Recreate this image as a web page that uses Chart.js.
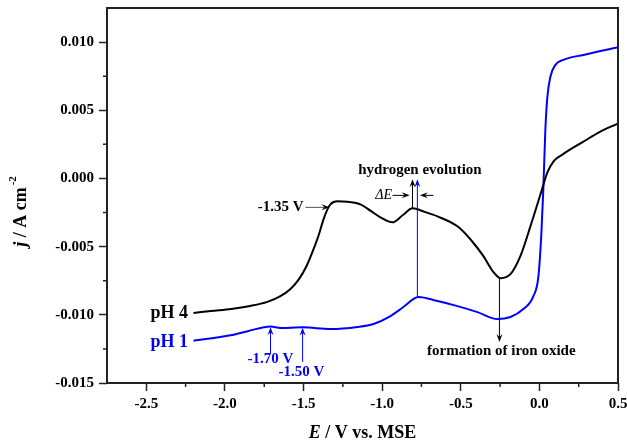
<!DOCTYPE html>
<html>
<head>
<meta charset="utf-8">
<script src="https://cdn.jsdelivr.net/npm/chart.js@4.4.0/dist/chart.umd.min.js"></script>
<style>
  html, body { margin: 0; padding: 0; background: #fff; }
  #wrap { width: 627px; height: 442px; }
</style>
</head>
<body>
<div id="wrap"><canvas id="charts" width="627" height="442"></canvas></div>
<script>
// polarisation curves, potential in V vs. MSE and current density in A cm-2
const ph4Potential = [-2.2, -2.09, -1.96, -1.84, -1.73, -1.65, -1.583, -1.53, -1.48, -1.44, -1.405, -1.373,
  -1.348, -1.329, -1.284, -1.221, -1.138, -1.07, -1.011, -0.935, -0.87, -0.807, -0.73, -0.648, -0.521, -0.439,
  -0.356, -0.292, -0.248, -0.184, -0.121, -0.057, 0.006, 0.051, 0.089, 0.146, 0.28, 0.388, 0.5];
const ph4Current = [-0.00987, -0.00972, -0.00957, -0.00935, -0.00905, -0.00865, -0.0081, -0.0074, -0.0064,
  -0.0053, -0.0042, -0.003, -0.00227, -0.0019, -0.00168, -0.0017, -0.0019, -0.0024, -0.00285, -0.00322,
  -0.0027, -0.00219, -0.00245, -0.00278, -0.00351, -0.00446, -0.0057, -0.00687, -0.00731, -0.00702, -0.0057,
  -0.00351, -0.0012, 0.00044, 0.00124, 0.00175, 0.0027, 0.00344, 0.00402];

const ph1Potential = [-2.2, -1.964, -1.856, -1.71, -1.647, -1.506, -1.329, -1.157, -1.055, -0.947, -0.865, -0.769,
  -0.648, -0.521, -0.394, -0.267, -0.184, -0.102, -0.038, -0.006, 0.013, 0.025, 0.038, 0.051, 0.07, 0.102,
  0.153, 0.28, 0.5];
const ph1Current = [-0.0119, -0.0115, -0.0112, -0.01085, -0.01096, -0.01092, -0.01104, -0.01089, -0.01067, -0.01009,
  -0.00943, -0.0087, -0.00899, -0.00936, -0.0098, -0.01031, -0.01016, -0.00958, -0.00863, -0.00716, -0.00395,
  -0.0008, 0.00358, 0.006, 0.00746, 0.00833, 0.0087, 0.00906, 0.00962];

const xTicks = [-2.5, -2.0, -1.5, -1.0, -0.5, 0.0, 0.5];
const yTicks = [-0.015, -0.010, -0.005, 0.000, 0.005, 0.010];
const xMinorTicks = [-2.25, -1.75, -1.25, -0.75, -0.25, 0.25];
const yMinorTicks = [-0.0125, -0.0075, -0.0025, 0.0025, 0.0075];

const black = '#000000';
const blue = '#0000ff';

// text notes, placed in data units
const notes = [
  { text: 'pH 4', x: -2.235, y: -0.00987, color: black, align: 'right', font: 'bold 18px "Liberation Serif"' },
  { text: 'pH 1', x: -2.235, y: -0.0120, color: blue, align: 'right', font: 'bold 18px "Liberation Serif"' },
  { text: '-1.35 V', x: -1.50, y: -0.00212, color: black, align: 'right', font: 'bold 15px "Liberation Serif"' },
  { text: 'hydrogen evolution', x: -0.76, y: 0.00058, color: black, align: 'center', font: 'bold 15px "Liberation Serif"' },
  { text: 'ΔE', x: -0.99, y: -0.00124, color: black, align: 'center', font: 'italic 14px "Liberation Serif"' },
  { text: 'formation of iron oxide', x: -0.242, y: -0.01265, color: black, align: 'center', font: 'bold 15px "Liberation Serif"' },
  { text: '-1.70 V', x: -1.71, y: -0.01323, color: blue, align: 'center', font: 'bold 15px "Liberation Serif"' },
  { text: '-1.50 V', x: -1.513, y: -0.01418, color: blue, align: 'center', font: 'bold 15px "Liberation Serif"' }
];

// arrows from (x1,y1) to head at (x2,y2)
const arrows = [
  { x1: -1.488, y1: -0.00212, x2: -1.335, y2: -0.00212, color: '#555' },
  { x1: -0.807, y1: -0.00219, x2: -0.807, y2: -0.00005, color: black },
  { x1: -0.776, y1: -0.0087, x2: -0.776, y2: -0.00005, color: blue },
  { x1: -0.934, y1: -0.00124, x2: -0.825, y2: -0.00124, color: black },
  { x1: -0.674, y1: -0.00124, x2: -0.76, y2: -0.00124, color: black },
  { x1: -0.254, y1: -0.00731, x2: -0.254, y2: -0.0120, color: black },
  { x1: -1.71, y1: -0.01287, x2: -1.71, y2: -0.01092, color: blue },
  { x1: -1.506, y1: -0.01345, x2: -1.506, y2: -0.01095, color: blue }
];

function toPoints(xs, ys) {
  return xs.map((x, i) => ({ x: x, y: ys[i] }));
}

const extras = {
  id: 'extras',
  afterDraw(chart) {
    const ctx = chart.ctx;
    const xs = chart.scales.x;
    const ys = chart.scales.y;
    const area = chart.chartArea;
    ctx.save();

    // frame
    ctx.strokeStyle = '#222';
    ctx.lineWidth = 2;
    ctx.strokeRect(area.left, area.top, area.right - area.left, area.bottom - area.top);

    // minor ticks
    ctx.lineWidth = 1.5;
    ctx.strokeStyle = '#222';
    ctx.beginPath();
    xMinorTicks.forEach(v => {
      const px = xs.getPixelForValue(v);
      ctx.moveTo(px, area.bottom);
      ctx.lineTo(px, area.bottom + 4);
    });
    yMinorTicks.forEach(v => {
      const py = ys.getPixelForValue(v);
      ctx.moveTo(area.left, py);
      ctx.lineTo(area.left - 4, py);
    });
    ctx.stroke();

    // arrows
    arrows.forEach(a => {
      const x1 = xs.getPixelForValue(a.x1), y1 = ys.getPixelForValue(a.y1);
      const x2 = xs.getPixelForValue(a.x2), y2 = ys.getPixelForValue(a.y2);
      const ang = Math.atan2(y2 - y1, x2 - x1);
      ctx.strokeStyle = a.color;
      ctx.fillStyle = a.color === '#555' ? black : a.color;
      ctx.lineWidth = 1;
      ctx.beginPath();
      ctx.moveTo(x1, y1);
      ctx.lineTo(x2 - 4 * Math.cos(ang), y2 - 4 * Math.sin(ang));
      ctx.stroke();
      ctx.beginPath();
      ctx.moveTo(x2, y2);
      ctx.lineTo(x2 - 8 * Math.cos(ang) + 3 * Math.sin(ang), y2 - 8 * Math.sin(ang) - 3 * Math.cos(ang));
      ctx.lineTo(x2 - 5 * Math.cos(ang), y2 - 5 * Math.sin(ang));
      ctx.lineTo(x2 - 8 * Math.cos(ang) - 3 * Math.sin(ang), y2 - 8 * Math.sin(ang) + 3 * Math.cos(ang));
      ctx.closePath();
      ctx.fill();
    });

    // notes
    ctx.textBaseline = 'middle';
    notes.forEach(n => {
      ctx.font = n.font;
      ctx.fillStyle = n.color;
      ctx.textAlign = n.align;
      ctx.fillText(n.text, xs.getPixelForValue(n.x), ys.getPixelForValue(n.y));
    });

    // axis titles with italic symbols
    ctx.fillStyle = black;
    ctx.textAlign = 'left';
    const bi = 'bold italic 18px "Liberation Serif"';
    const b = 'bold 18px "Liberation Serif"';
    ctx.font = bi;
    const wE = ctx.measureText('E').width;
    ctx.font = b;
    const wRest = ctx.measureText(' / V vs. MSE').width;
    let sx = (area.left + area.right) / 2 - (wE + wRest) / 2;
    const ty = 433;
    ctx.font = bi;
    ctx.fillText('E', sx, ty);
    ctx.font = b;
    ctx.fillText(' / V vs. MSE', sx + wE, ty);

    ctx.translate(21, (area.top + area.bottom) / 2 + 16);
    ctx.rotate(-Math.PI / 2);
    ctx.font = bi;
    const wj = ctx.measureText('j').width;
    ctx.font = b;
    const wA = ctx.measureText(' / A cm').width;
    ctx.font = 'bold 11px "Liberation Serif"';
    const wS = ctx.measureText('-2').width;
    sx = -(wj + wA + wS + 2) / 2;
    ctx.font = bi;
    ctx.fillText('j', sx, 0);
    ctx.font = b;
    ctx.fillText(' / A cm', sx + wj, 0);
    ctx.font = 'bold 11px "Liberation Serif"';
    ctx.fillText('-2', sx + wj + wA + 2, -8);
    ctx.restore();
  }
};

const tickFont = { family: 'Liberation Serif', size: 15, weight: 'bold' };

new Chart(document.getElementById('charts'), {
  type: 'scatter',
  data: {
    datasets: [
      {
        label: 'pH 4',
        data: toPoints(ph4Potential, ph4Current),
        showLine: true,
        borderColor: black,
        borderWidth: 2,
        pointRadius: 0,
        cubicInterpolationMode: 'monotone'
      },
      {
        label: 'pH 1',
        data: toPoints(ph1Potential, ph1Current),
        showLine: true,
        borderColor: blue,
        borderWidth: 2,
        pointRadius: 0,
        cubicInterpolationMode: 'monotone'
      }
    ]
  },
  options: {
    responsive: false,
    animation: false,
    devicePixelRatio: 1,
    layout: { padding: { left: 0, right: 9, top: 8, bottom: 0 } },
    plugins: { legend: { display: false }, tooltip: { enabled: false } },
    scales: {
      x: {
        type: 'linear',
        min: -2.75,
        max: 0.5,
        afterFit: s => { s.height = 59; s.paddingLeft = 0; s.paddingRight = 0; },
        afterBuildTicks: s => { s.ticks = xTicks.map(v => ({ value: v })); },
        grid: { drawOnChartArea: false, drawTicks: true, tickLength: 8, tickWidth: 1.5, tickColor: '#222' },
        border: { display: false },
        ticks: { font: tickFont, color: black, padding: 4, maxRotation: 0, callback: v => v.toFixed(1) }
      },
      y: {
        type: 'linear',
        min: -0.015,
        max: 0.0125,
        afterFit: s => { s.width = 107; s.paddingTop = 0; s.paddingBottom = 0; },
        afterBuildTicks: s => { s.ticks = yTicks.map(v => ({ value: v })); },
        grid: { drawOnChartArea: false, drawTicks: true, tickLength: 8, tickWidth: 1.5, tickColor: '#222' },
        border: { display: false },
        ticks: { font: tickFont, color: black, padding: 5, callback: v => v.toFixed(3) }
      }
    }
  },
  plugins: [extras]
});
</script>
</body>
</html>
